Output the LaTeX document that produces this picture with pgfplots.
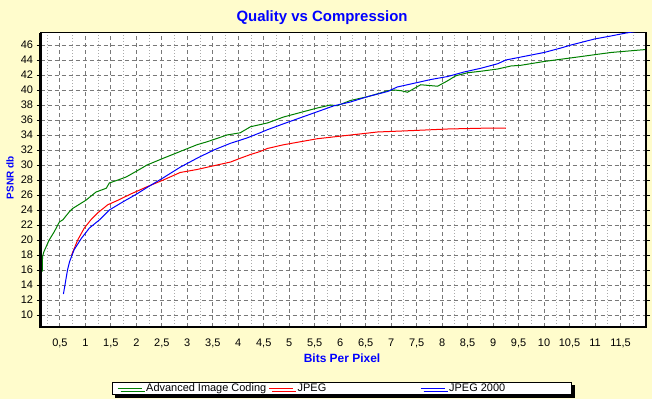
\documentclass[border=0pt]{standalone}
\usepackage{fontspec}
\setmainfont{Liberation Sans}
\usepackage{pgfplots}
\pgfplotsset{compat=1.18}
\usetikzlibrary{shadows}
\definecolor{bgyel}{RGB}{255,252,204}
\definecolor{majgrid}{RGB}{120,120,120}
\definecolor{mingrid}{RGB}{170,170,170}
\definecolor{aicgreen}{RGB}{0,128,0}
\definecolor{labblue}{RGB}{0,0,255}
\begin{document}
\begin{tikzpicture}
\fill[bgyel] (0,0) rectangle (652bp,399bp);
\begin{axis}[
  at={(40.5bp,72bp)}, anchor=south west,
  width=605.5bp, height=294bp, scale only axis,
  xmin=0.12, xmax=12, ymin=8.4, ymax=47.6,
  clip mode=individual,
  axis background/.style={fill=white},
  axis line style={black, line width=1bp},
  xtick={0.5,1,...,11.5},
  minor xtick={0.25,0.75,...,11.75},
  ytick={10,12,...,46},
  grid=both,
  major grid style={majgrid, dash pattern=on 4bp off 3bp, line width=0.9bp},
  minor grid style={mingrid, dash pattern=on 1bp off 2bp, line width=0.9bp},
  tick align=outside,
  major tick length=4bp, minor tick length=0pt,
  xtick style={draw=none},
  ytick style={black, line width=0.8bp},
  ticklabel style={font=\fontsize{11}{13}\selectfont, /pgf/number format/assume math mode=true},
  xticklabel style={/pgf/number format/.cd, use comma, fixed, precision=1, /tikz/.cd, yshift=-4bp},
  yticklabel style={/pgf/number format/.cd, fixed, precision=0},
  title={Quality vs Compression},
  title style={at={(axis description cs:0.465,1)}, anchor=base, yshift=6bp, font=\bfseries\fontsize{15}{18}\selectfont, text=labblue},
  xlabel={Bits Per Pixel},
  xlabel style={at={(axis description cs:0.498,0)}, anchor=base, yshift=-35bp, font=\bfseries\fontsize{12}{14}\selectfont, text=labblue},
  ylabel={PSNR db},
  ylabel style={at={(axis description cs:-0.0504,0.507)}, anchor=center, font=\bfseries\fontsize{10}{12}\selectfont, text=labblue},
  legend columns=3,
  legend image code/.code={\draw[#1, line width=1bp] (0bp,0bp) -- (24bp,0bp);},
  legend style={at={(axis description cs:0.1176,-0.186)}, anchor=north west, draw=black, line width=1bp, fill=white,
    inner xsep=5bp, inner ysep=1.5bp, column sep=0pt,
    nodes={inner sep=0pt, font=\fontsize{11}{13}\selectfont},
    drop shadow={shadow xshift=3bp, shadow yshift=-3bp, fill=black, opacity=1}},
  no markers,
]
\addplot[aicgreen, line width=1bp] coordinates {
(0.155,15.8) (0.16,17.8) (0.185,18.4) (0.29,20.0) (0.39,21.1) (0.49,22.4) (0.56,22.7)
(0.69,23.8) (0.75,24.2) (1.01,25.3) (1.21,26.4) (1.41,26.9) (1.47,27.6) (1.64,28.0)
(1.80,28.4) (2.01,29.2) (2.21,30.0) (2.53,30.9) (2.86,31.8) (3.19,32.7) (3.39,33.1)
(3.52,33.4) (3.78,34.0) (4.04,34.3) (4.24,35.1) (4.57,35.6) (4.89,36.4) (5.22,37.0)
(5.55,37.6) (5.81,38.0) (5.94,37.9) (6.20,38.6) (6.53,39.1) (6.79,39.6) (6.93,39.9)
(7.06,40.0) (7.20,39.9) (7.32,39.7) (7.45,40.2) (7.58,40.7) (7.75,40.6) (7.91,40.5)
(8.10,41.2) (8.27,41.9) (8.50,42.3) (8.76,42.5) (9.09,42.8) (9.35,43.2) (9.55,43.3)
(10.0,43.8) (10.66,44.4) (11.31,45.0) (12.0,45.4)
};
\addlegendentry{\hspace{4bp}\makebox[122.5bp][l]{Advanced Image Coding}}
\addplot[red, line width=1bp] coordinates {
(0.73,18.0) (0.85,20.0) (0.98,21.6) (1.11,22.7) (1.24,23.6) (1.44,24.7) (1.64,25.3)
(1.88,26.1) (2.21,27.1) (2.53,28.0) (2.86,29.0) (3.19,29.4) (3.52,29.9) (3.85,30.4)
(4.04,30.9) (4.24,31.4) (4.43,31.8) (4.57,32.2) (4.89,32.7) (5.22,33.1) (5.55,33.5)
(5.94,33.8) (6.34,34.1) (6.73,34.4) (7.45,34.6) (8.11,34.8) (8.76,34.9) (9.25,34.9)
};
\addlegendentry{\hspace{4bp}\makebox[122.5bp][l]{JPEG}}
\addplot[blue, line width=1bp] coordinates {
(0.57,12.8) (0.65,16.0) (0.69,17.1) (0.78,18.7) (0.92,20.2) (1.08,21.6) (1.28,22.7)
(1.47,24.0) (1.74,25.1) (2.0,26.1) (2.21,27.0) (2.53,28.3) (2.86,29.7) (3.19,30.9)
(3.52,32.0) (3.85,32.9) (4.17,33.6) (4.43,34.3) (4.57,34.7) (4.89,35.5) (5.22,36.3)
(5.55,37.1) (5.88,37.9) (6.20,38.4) (6.53,39.1) (6.93,39.8) (7.12,40.4) (7.45,40.9)
(7.78,41.4) (8.11,41.8) (8.43,42.4) (8.76,42.9) (9.09,43.5) (9.25,44.0) (9.55,44.4)
(10.0,45.0) (10.33,45.6) (10.53,46.0) (10.99,46.8) (11.31,47.2) (11.61,47.6) (11.8,47.8)
};
\addlegendentry{\hspace{4bp}\makebox[117.5bp][l]{JPEG 2000}}
\draw[black, line width=2.5bp] (rel axis cs:0,1) -- (rel axis cs:0,0) -- (rel axis cs:1,0) -- (rel axis cs:1,1);
\end{axis}
\end{tikzpicture}
\end{document}
